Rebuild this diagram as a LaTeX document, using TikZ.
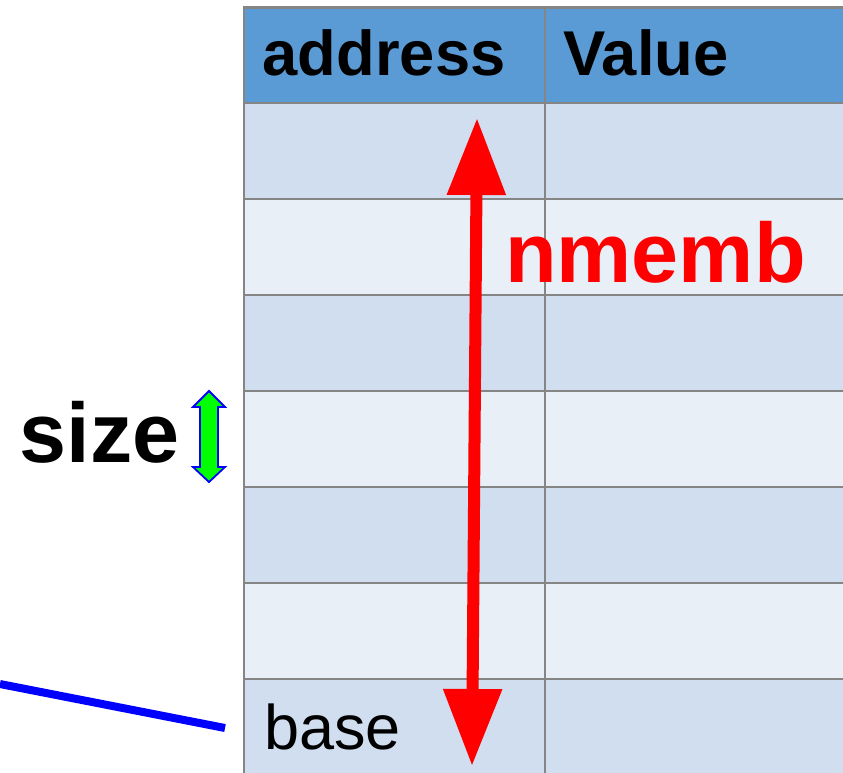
\documentclass[tikz,border=0pt]{standalone}
\usepackage{fontspec}
\setmainfont{Liberation Sans}
\usetikzlibrary{arrows.meta}
\definecolor{hdrblue}{HTML}{5B9BD5}
\definecolor{rowdark}{HTML}{D0DEEF}
\definecolor{rowlight}{HTML}{E9EFF7}
\definecolor{gridgray}{HTML}{858585}
\definecolor{arrowgreen}{HTML}{00FF00}
\begin{document}
\begin{tikzpicture}[x=1pt,y=-1pt,
  hdrtext/.style={inner sep=0pt, anchor=base west, font=\fontsize{63.3}{70}\selectfont\bfseries},
  celltext/.style={inner sep=0pt, anchor=base west, font=\fontsize{63}{70}\selectfont},
  bigtext/.style={inner sep=0pt, anchor=base west, font=\fontsize{84.5}{90}\selectfont\bfseries},
  gridline/.style={gridgray, line width=2.5pt},
  memarrow/.style={red, line width=12pt,
    {Triangle[length=77pt,width=56pt]}-{Triangle[length=77pt,width=56pt]}},
  ptrline/.style={blue, line width=8pt}]
\useasboundingbox (0,0) rectangle (843,772);

% memory table, running off the right and bottom edges
\begin{scope}
  \clip (0,0) rectangle (843,772);
  \fill[hdrblue] (244,7) rectangle (900,103);
  \foreach \i in {0,2,4,6}
    \fill[rowdark] (244,{103+96*\i}) rectangle (900,{199+96*\i});
  \foreach \i in {1,3,5}
    \fill[rowlight] (244,{103+96*\i}) rectangle (900,{199+96*\i});
  \draw[gridgray, line width=3pt] (244,7) -- (900,7);
  \foreach \y in {103,199,295,391,487,583,679}
    \draw[gridline] (244,\y) -- (900,\y);
  \draw[gridline] (244,6) -- (244,800);
  \draw[gridline] (545,6) -- (545,800);
\end{scope}

% header and cell texts
\node[hdrtext] (addr) at (262.5,75) {address};
\node[hdrtext] (val) at (563,75) {Value};
\node[celltext] (base) at (264,749) {base};

% labels
\node[bigtext, red] (nmemb) at (505,282) {nmemb};
\node[bigtext] (size) at (19.5,462) {size};

% nmemb span arrow
\coordinate (spanlo) at (472,766);
\coordinate (spanhi) at (477,118);
\draw[memarrow] (spanlo) -- (spanhi);

% size marker: one element high
\filldraw[fill=arrowgreen, draw=blue, line width=1.8pt, line join=miter]
  (209,391) -- (225,407) -- (218,407) -- (218,467) -- (225,467) -- (209,482)
  -- (193,467) -- (200,467) -- (200,407) -- (193,407) -- cycle;

% pointer to base
\coordinate (ptrfrom) at (0,684);
\coordinate (ptrto) at (225,728);
\draw[ptrline] (ptrfrom) -- (ptrto);
\end{tikzpicture}
\end{document}
